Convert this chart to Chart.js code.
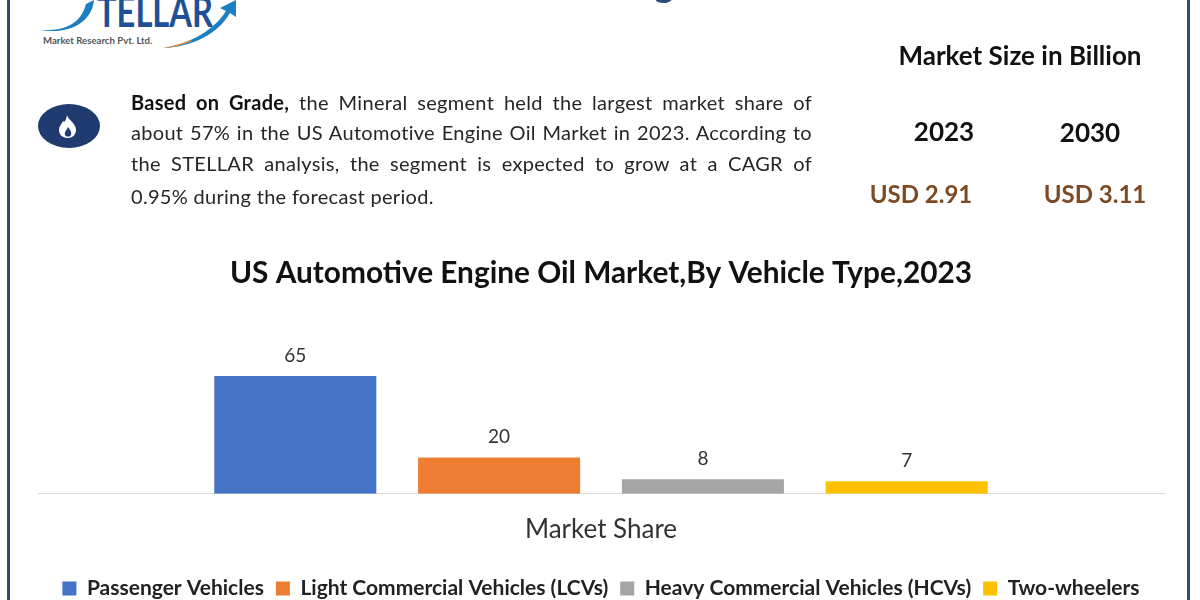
<!DOCTYPE html>
<html>
<head>
<meta charset="utf-8">
<title>US Automotive Engine Oil Market</title>
<script src="https://cdn.jsdelivr.net/npm/chart.js@4"></script>
<style>
  html, body { margin: 0; padding: 0; background: #fff; overflow: hidden; }
  #page { position: relative; width: 1200px; height: 600px; overflow: hidden; font-family: Lato, sans-serif; color: #1c1c1c; }
  #page canvas { position: absolute; left: 0; top: 0; }
  .frame { position: absolute; top: 0; width: 3px; height: 600px; background: #2f4a7c; }
  .txt { position: absolute; white-space: nowrap; line-height: 1; }
  .center { transform: translateX(-50%); }
  .para { position: absolute; left: 131px; width: 681px; font-size: 20px; line-height: 24px; letter-spacing: .3px; color: #262626; white-space: nowrap; }
  .para.full { text-align: justify; text-align-last: justify; white-space: normal; }
  .big { font-weight: 700; font-size: 26px; color: #111; }
  .usd { font-weight: 700; font-size: 24px; color: #7d4a24; }
  #logo, #flame { position: absolute; left: 0; top: 0; }
</style>
</head>
<body>
<div id="page">
  <div class="frame" style="left:7px"></div>
  <div class="frame" style="left:1187px"></div>
  <svg id="logo" width="260" height="60">
    <path d="M40 30 C62 31 80 26 86 4 L94 0 C92 22 70 35 40 30Z" fill="#1b7fc1"/>
    <text x="97" y="27" font-family="Lato" font-size="42" font-weight="700" fill="#1f4f96" textLength="116" lengthAdjust="spacingAndGlyphs">TELLAR</text>
    <path d="M163 48 C190 44 214 30 226 11 L220 8 L236 0 L236 17 L230 13 C218 34 192 47 163 48Z" fill="#1b7fc1"/>
    <path d="M163 48 C172 46 182 44 190 40 L192 41 C183 45 172 48 163 48Z" fill="#e58a3c"/>
    <text x="43" y="44" font-family="Lato" font-size="9.6" font-weight="700" fill="#555">Market Research Pvt. Ltd.</text>
  </svg>
  <svg id="flame" width="120" height="160">
    <ellipse cx="69" cy="126" rx="31" ry="22" fill="#1f3b70"/>
    <path d="M67 115 C68 120 76 123 76 130 C76 135 72 138 68 138 C63 138 59 135 59 130 C59 126 62 124 63 121 C65 123 66 120 67 115Z" fill="#fff"/>
    <path d="M68 127 C70 130 72 132 71 135 C70 137 66 137 65 135 C64 132 67 130 68 127Z" fill="#1f3b70"/>
  </svg>
  <canvas id="chart" width="1200" height="600"></canvas>
</div>
<script>
const categories = ['Market Share'];
const seriesNames = ['Passenger Vehicles', 'Light Commercial Vehicles (LCVs)', 'Heavy Commercial Vehicles (HCVs)', 'Two-wheelers'];
const seriesValues = [65, 20, 8, 7];
const seriesColors = ['#4472c4', '#ed7d31', '#a5a5a5', '#ffc000'];
const chartTitle = 'US Automotive Engine Oil Market,By Vehicle Type,2023';
const paragraphLines = [
  ['Based on Grade,', ' the Mineral segment held the largest market share of'],
  ['', 'about 57% in the US Automotive Engine Oil Market in 2023. According to'],
  ['', 'the STELLAR analysis, the segment is expected to grow at a CAGR of'],
  ['', '0.95% during the forecast period.']
];
const paragraphTops = [90, 120, 151, 184];
const sizeYears = ['2023', '2030'];
const sizeValues = ['USD 2.91', 'USD 3.11'];

const page = document.getElementById('page');
function addText(cls, text, left, top) {
  const d = document.createElement('div');
  d.className = 'txt ' + cls;
  d.textContent = text;
  d.style.left = left + 'px';
  d.style.top = top + 'px';
  page.appendChild(d);
  return d;
}

// top banner title is cropped by the image edge, only the descender shows
const banner = addText('center', 'US Automotive Engine Oil Market', 630, -37);
banner.style.fontSize = '38px';
banner.style.fontWeight = '700';
banner.style.color = '#2f4a7c';

paragraphLines.forEach(function (line, i) {
  const p = document.createElement('div');
  p.className = 'para' + (i < 3 ? ' full' : '');
  p.style.top = paragraphTops[i] + 'px';
  if (line[0]) {
    const b = document.createElement('b');
    b.textContent = line[0];
    b.style.color = '#111';
    p.appendChild(b);
  }
  p.appendChild(document.createTextNode(line[1]));
  page.appendChild(p);
});

addText('big center', 'Market Size in Billion', 1020, 42);
addText('big center', sizeYears[0], 944, 118);
addText('big center', sizeYears[1], 1090, 119);
addText('usd center', sizeValues[0], 921, 182);
addText('usd center', sizeValues[1], 1095, 182);

// value labels over the bars
const barLabels = {
  id: 'barLabels',
  afterDatasetsDraw(chart) {
    const c = chart.ctx;
    c.save();
    c.font = '19px Lato';
    c.fillStyle = '#333';
    c.textAlign = 'center';
    c.textBaseline = 'bottom';
    chart.data.datasets.forEach(function (ds, i) {
      const bar = chart.getDatasetMeta(i).data[0];
      c.fillText(ds.data[0], bar.x, bar.y - 11);
    });
    c.restore();
  }
};

new Chart(document.getElementById('chart').getContext('2d'), {
  type: 'bar',
  data: {
    labels: categories,
    datasets: seriesNames.map(function (name, i) {
      return { label: name, data: [seriesValues[i]], backgroundColor: seriesColors[i] };
    })
  },
  options: {
    responsive: false,
    animation: false,
    devicePixelRatio: 1,
    categoryPercentage: 0.724,
    barPercentage: 0.795,
    layout: { padding: { left: 38, right: 36, top: 256, bottom: -9 } },
    plugins: {
      tooltip: { enabled: false },
      title: {
        display: true,
        text: chartTitle,
        color: '#111',
        font: { family: 'Lato', size: 29.8, weight: '700' },
        padding: { top: 0, bottom: 21 }
      },
      legend: {
        position: 'bottom',
        labels: {
          boxWidth: 14,
          boxHeight: 14,
          padding: 12,
          color: '#222',
          font: { family: 'Lato', size: 21, weight: '700' }
        }
      }
    },
    scales: {
      x: {
        grid: { display: false, drawTicks: false },
        border: { color: '#d9d9d9', width: 1 },
        ticks: { color: '#333', padding: 20.5, font: { family: 'Lato', size: 26 } }
      },
      y: {
        display: false,
        min: 0,
        max: 100,
        grid: { display: false }
      }
    }
  },
  plugins: [barLabels]
});
</script>
</body>
</html>
